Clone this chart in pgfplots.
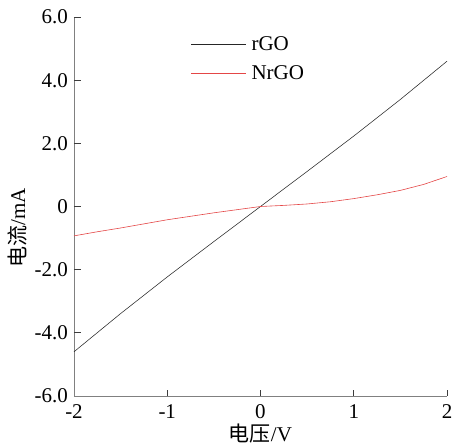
\documentclass[border=0pt]{standalone}
\usepackage{fontspec}
\setmainfont{Liberation Serif}
\newfontfamily\cjk{Noto Sans CJK SC}
\usepackage{pgfplots}
\pgfplotsset{compat=1.18}
\definecolor{axgray}{RGB}{128,128,128}
\definecolor{tickgray}{RGB}{60,60,60}
\definecolor{nred}{RGB}{228,70,70}
\begin{document}
\fontsize{21}{25}\selectfont
\begin{tikzpicture}
\begin{axis}[
  scale only axis,
  width=373pt, height=379pt,
  xmin=-2, xmax=2, ymin=-6, ymax=6,
  axis x line*=bottom, axis y line*=left,
  axis line style={-, draw=axgray, line width=0.9pt},
  xtick={-2,-1,0,1,2},
  xticklabels={-2,-1,0,1,2},
  ytick={-6,-4,-2,0,2,4,6},
  yticklabels={-6.0,-4.0,-2.0,0,2.0,4.0,6.0},
  xtick pos=bottom, ytick pos=left,
  tick align=inside,
  major tick length=0pt,
  every tick label/.append style={font=\fontsize{21}{25}\selectfont},
  xticklabel style={yshift=-1pt},
  yticklabel style={xshift=1pt},
  xlabel={{\cjk 电压}/V},
  ylabel={{\cjk 电流}/mA},
  label style={font=\fontsize{21}{25}\selectfont, inner sep=0pt},
  xlabel style={at={(axis description cs:0.5,0)}, anchor=north, yshift=-28pt},
  ylabel style={at={(axis description cs:0,0.443)}, anchor=center, yshift=57pt},
  legend style={draw=none, fill=none, at={(axis description cs:0.305,0.958)}, anchor=north west,
    font=\fontsize{21}{25}\selectfont, row sep=10pt, nodes={inner sep=1pt}},
  legend cell align=left,
  legend image code/.code={\draw[#1] (0pt,0pt) -- (55pt,0pt); \path (59pt,0pt);},
  clip=false,
]
\addplot[black!85, line width=0.55pt] coordinates {
(-2,-4.6) (-1.5,-3.39) (-1,-2.23) (-0.5,-1.11) (0,0) (0.5,1.11) (1,2.23) (1.5,3.39) (2,4.6)};
\addlegendentry{rGO}
\addplot[nred, line width=0.6pt] coordinates {
(-2,-0.93) (-1.75,-0.80) (-1.5,-0.68) (-1.25,-0.55) (-1,-0.42) (-0.75,-0.31) (-0.5,-0.20) (-0.25,-0.10) (0,0) (0.25,0.035) (0.5,0.08) (0.75,0.15) (1,0.25) (1.25,0.37) (1.5,0.51) (1.75,0.70) (2,0.95)};
\addlegendentry{NrGO}
\addplot[tickgray, line width=0.9pt, forget plot] coordinates {(-1,-6) (-1,-5.8)};
\addplot[tickgray, line width=0.9pt, forget plot] coordinates {(0,-6) (0,-5.8)};
\addplot[tickgray, line width=0.9pt, forget plot] coordinates {(1,-6) (1,-5.8)};
\addplot[tickgray, line width=0.9pt, forget plot] coordinates {(2,-6) (2,-5.8)};
\addplot[tickgray, line width=0.9pt, forget plot] coordinates {(-2,-4) (-1.925,-4)};
\addplot[tickgray, line width=0.9pt, forget plot] coordinates {(-2,-2) (-1.925,-2)};
\addplot[tickgray, line width=0.9pt, forget plot] coordinates {(-2,0) (-1.925,0)};
\addplot[tickgray, line width=0.9pt, forget plot] coordinates {(-2,2) (-1.925,2)};
\addplot[tickgray, line width=0.9pt, forget plot] coordinates {(-2,4) (-1.925,4)};
\addplot[tickgray, line width=0.9pt, forget plot] coordinates {(-2,6) (-1.925,6)};
\coordinate (ll) at (rel axis cs:0,0);
\coordinate (ur) at (rel axis cs:1,1);
\end{axis}
\pgfresetboundingbox
\path ([xshift=-74pt,yshift=-50pt]ll) rectangle ([xshift=6pt,yshift=17pt]ur);
\end{tikzpicture}
\end{document}
